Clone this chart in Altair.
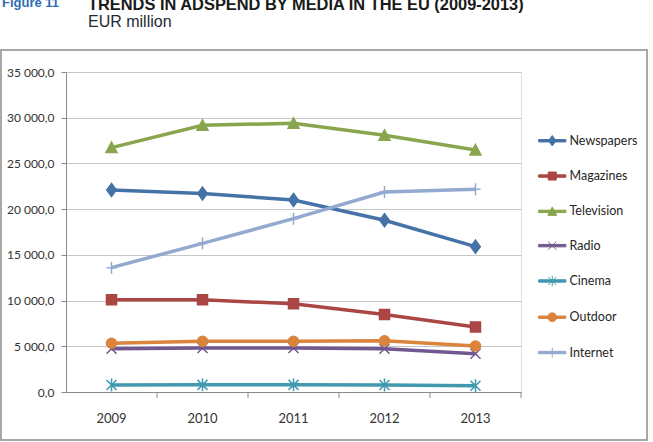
import altair as alt
import pandas as pd

# Advertising spend by media in the EU, EUR million
years = ["2009", "2010", "2011", "2012", "2013"]
media = ["Newspapers", "Magazines", "Television", "Radio", "Cinema", "Outdoor", "Internet"]
newspapers = [22100, 21700, 21000, 18780, 15900]
magazines = [10100, 10080, 9640, 8470, 7120]
television = [26730, 29170, 29390, 28080, 26470]
radio = [4740, 4810, 4810, 4740, 4190]
cinema = [770, 780, 780, 770, 690]
outdoor = [5330, 5550, 5550, 5610, 5030]
internet = [13600, 16260, 18960, 21870, 22170]

colors = ["#4572A7", "#AA4643", "#89A54E", "#71588F", "#4198AF", "#DB843D", "#93A9CF"]

# marker shapes drawn on the lines
plot_shapes = [
    "M0,-1.3L0.95,0L0,1.3L-0.95,0Z",
    "M-1,-1L1,-1L1,1L-1,1Z",
    "M0,-1.1L1.1,1L-1.1,1Z",
    "M-1,-1L1,1M-1,1L1,-1",
    "M-1,-1L1,1M-1,1L1,-1M0,-1.3L0,1.3",
    "circle",
    "M0,-1.2L0,1.2M-1,0L1,0",
]

# legend keys: a short bar of line with the marker on top
bar = "M-3.4,-0.3L3.4,-0.3L3.4,0.3L-3.4,0.3Z"
legend_shapes = [
    bar + "M0,-1.3L0.95,0L0,1.3L-0.95,0Z",
    bar + "M-1,-1L1,-1L1,1L-1,1Z",
    bar + "M0,-1.1L1.1,1L-1.1,1Z",
    bar + "M-1,-1L1,1M-1,1L1,-1",
    bar + "M-1,-1L1,1M-1,1L1,-1M0,-1.3L0,1.3",
    bar + "M1.1,0A1.1,1.1,0,1,1,-1.1,0A1.1,1.1,0,1,1,1.1,0Z",
    bar + "M0,-1.2L0,1.2M-1,0L1,0",
]

series = [newspapers, magazines, television, radio, cinema, outdoor, internet]
rows = []
for name, vals in zip(media, series):
    for yr, v in zip(years, vals):
        rows.append({"Year": yr, "Media": name, "Value": v})
df = pd.DataFrame(rows)

FONT = "Lato, sans-serif"

x_enc = alt.X("Year:N", scale=alt.Scale(domain=years, paddingInner=0, paddingOuter=0),
              axis=alt.Axis(title=None, ticks=False, labelAngle=0, labelPadding=20,
                            labelFont=FONT, labelFontSize=13, labelColor="#333333",
                            domainColor="#8a8a8a", grid=False))
y_enc = alt.Y("Value:Q", scale=alt.Scale(domain=[0, 35000], nice=False),
              axis=alt.Axis(title=None, values=list(range(0, 35001, 5000)),
                            labelExpr="replace(replace(format(datum.value, ',.1f'), ',', ' '), '.', ',')",
                            labelFont=FONT, labelFontSize=12, labelColor="#333333",
                            labelPadding=7, tickSize=5, tickColor="#8a8a8a",
                            domainColor="#8a8a8a", gridColor="#c6c6c6"))

color_scale = alt.Scale(domain=media, range=colors)

legend_def = alt.Legend(title=None, orient="none", legendX=480, legendY=62.5,
                        symbolSize=64, symbolStrokeWidth=1, labelOffset=11,
                        labelFont=FONT, labelFontSize=12.5, labelColor="#262626",
                        rowPadding=21.3, padding=0)

lines = alt.Chart(df).mark_line(strokeWidth=3.5).encode(
    x=x_enc, y=y_enc,
    color=alt.Color("Media:N", scale=color_scale, legend=legend_def),
    order=alt.Order("Year:N"),
)

# one marker layer per medium, each with its own symbol
marker_layers = []
for name, shp in zip(media, plot_shapes):
    marker_layers.append(
        alt.Chart(df).transform_filter(alt.datum.Media == name).mark_point(
            filled=True, size=100, strokeWidth=1.5, opacity=1, shape=shp
        ).encode(
            x=alt.X("Year:N"), y=alt.Y("Value:Q"),
            color=alt.Color("Media:N", scale=color_scale, legend=legend_def),
            stroke=alt.Stroke("Media:N", scale=color_scale, legend=legend_def),
        )
    )

# ticks between the year categories along the x axis
tick_df = pd.DataFrame({"Year": years})
ticks = alt.Chart(tick_df).mark_rule(color="#8a8a8a", strokeWidth=1).encode(
    x=alt.X("Year:N", bandPosition=1),
    y=alt.value(320), y2=alt.value(326),
)

# carries the legend keys only; draws nothing in the plot
legend_layer = alt.Chart(df).transform_filter("false").mark_point(
    filled=True, size=64, strokeWidth=1, opacity=1
).encode(
    x=alt.X("Year:N"), y=alt.Y("Value:Q"),
    color=alt.Color("Media:N", scale=color_scale, legend=legend_def),
    stroke=alt.Stroke("Media:N", scale=color_scale, legend=legend_def),
    shape=alt.Shape("Media:N", scale=alt.Scale(domain=media, range=legend_shapes), legend=legend_def),
)

one = alt.Data(values=[{}])
frame = alt.Chart(one).mark_rect(fillOpacity=0, stroke="#8c8c8c", strokeWidth=1.5).encode(
    x=alt.value(-65), x2=alt.value(581), y=alt.value(-22), y2=alt.value(368),
)
fig_label = alt.Chart(one).mark_text(
    text="Figure 11", align="left", baseline="alphabetic", font="Liberation Sans",
    fontWeight="bold", fontSize=13, color="#2E6DB4",
).encode(x=alt.value(-64), y=alt.value(-65))
title = alt.Chart(one).mark_text(
    text="TRENDS IN ADSPEND BY MEDIA IN THE EU (2009-2013)", align="left",
    baseline="alphabetic", font="Liberation Sans", fontWeight="bold", fontSize=16.4,
    color="#1a1a1a",
).encode(x=alt.value(22), y=alt.value(-62.5))
subtitle = alt.Chart(one).mark_text(
    text="EUR million", align="left", baseline="alphabetic", font="Liberation Sans",
    fontSize=16, color="#1f2a36",
).encode(x=alt.value(22), y=alt.value(-45))

chart = alt.layer(
    frame, lines, *marker_layers, ticks, legend_layer, fig_label, title, subtitle
).properties(
    width=455, height=320,
    autosize=alt.AutoSizeParams(type="none"),
    padding={"left": 66, "top": 72, "right": 132, "bottom": 50},
).configure_view(stroke=None).configure(background="white")

chart.save("out.html", embed_options={"renderer": "svg", "actions": False})
